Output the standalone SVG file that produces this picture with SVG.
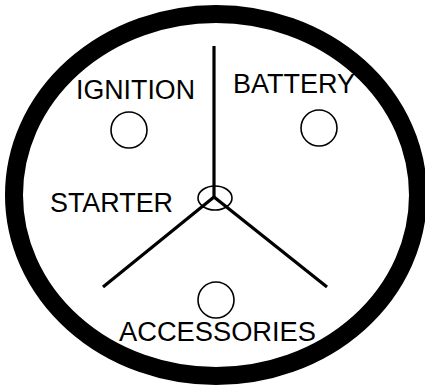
<svg xmlns="http://www.w3.org/2000/svg" width="425" height="387" viewBox="0 0 425 387">
<style>
.lbl{font-family:"Liberation Sans",Arial,sans-serif;font-size:27px;fill:#000}
.pos{fill:none;stroke:#000;stroke-width:1.6}
.arm{stroke:#000;stroke-width:3.2;stroke-linecap:butt;fill:none}
</style>
<rect width="425" height="387" fill="#fff"/>
<g id="switch-body">
<ellipse cx="216" cy="195" rx="202" ry="181" fill="none" stroke="#000" stroke-width="18"/>
</g>
<g id="connectors">
<line class="arm" x1="214" y1="46" x2="214" y2="197"/>
<line class="arm" x1="214" y1="197" x2="103" y2="287"/>
<line class="arm" x1="214" y1="197" x2="327" y2="287"/>
</g>
<g id="starter">
<ellipse class="pos" cx="215" cy="198" rx="17" ry="12"/>
<text class="lbl" x="50" y="212" textLength="123" lengthAdjust="spacingAndGlyphs">STARTER</text>
</g>
<g id="ignition">
<circle class="pos" cx="129" cy="130" r="18"/>
<text class="lbl" x="76" y="99" textLength="119" lengthAdjust="spacingAndGlyphs">IGNITION</text>
</g>
<g id="battery">
<circle class="pos" cx="319" cy="128" r="18"/>
<text class="lbl" x="233" y="93" textLength="122" lengthAdjust="spacingAndGlyphs">BATTERY</text>
</g>
<g id="accessories">
<circle class="pos" cx="216" cy="300" r="18"/>
<text class="lbl" x="119" y="341" textLength="197" lengthAdjust="spacingAndGlyphs">ACCESSORIES</text>
</g>
</svg>
